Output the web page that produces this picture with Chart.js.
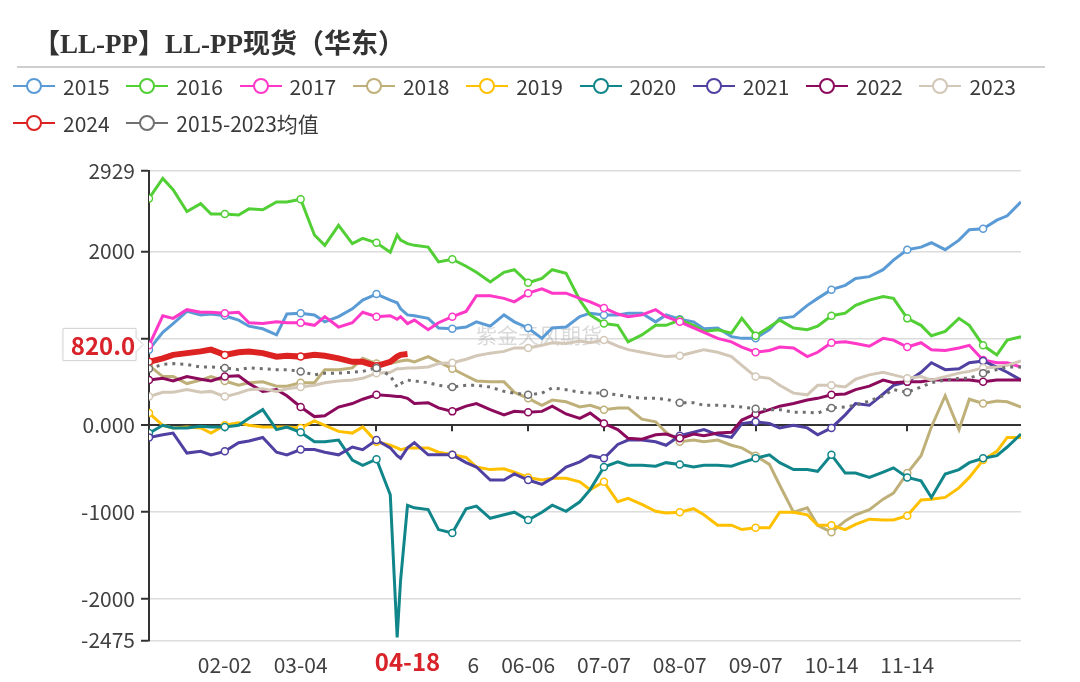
<!DOCTYPE html>
<html>
<head>
<meta charset="utf-8">
<script src="https://cdn.jsdelivr.net/npm/chart.js@4.4.1/dist/chart.umd.min.js"></script>
<style>
  html, body { margin: 0; padding: 0; background: #fff; }
  #wrap { position: relative; width: 1080px; height: 682px; overflow: hidden; }
  canvas { position: absolute; left: 0; top: 0; }
  #title { position: absolute; left: 33px; top: 22px; line-height: 40px; font: bold 27px "Liberation Serif", "Noto Sans CJK SC", serif; color: #333; white-space: nowrap; }
  #rule { position: absolute; left: 17px; top: 66px; width: 1028px; height: 2px; background: #cfcfcf; }
  .item { position: absolute; height: 30px; display: flex; align-items: center; font: 21px "Noto Sans CJK SC", sans-serif; color: #3a3a3a; white-space: nowrap; }
  .item span { margin-left: 8px; }
</style>
</head>
<body>
<div id="wrap">
  <canvas id="chart" width="1080" height="682"></canvas>
  <div id="title">【LL-PP】LL-PP现货（华东）</div>
  <div id="rule"></div>
  <div id="legend"></div>
</div>
<script>
// 交易日序号（横轴位置），各序列在这些位置取值
const days = [0,4,7,11,15,18,22,26,29,33,37,40,44,48,51,55,59,62,66,70,72,73,75,
  77,81,84,88,92,95,99,103,106,110,114,117,121,125,128,132,136,139,143,147,150,154,158,161,165,
  169,172,176,180,183,187,191,194,198,202,205,209,213,216,220,224,227,231,235,238,242,246,249,253];

// 横轴刻度
const tickDays = [22,44,66,88,110,132,154,176,198,220];
const tickLabels = ['02-02','03-04','04-04','05-06','06-06','07-07','08-07','09-07','10-14','11-14'];
// 纵轴刻度
const yTicks = [-2475,-2000,-1000,0,1000,2000,2929];

const s2015 = [870,1070,1170,1310,1270,1280,1260,1210,1140,1110,1040,1280,1290,1270,1190,1250,1340,1440,1510,1440,
  1410,1340,1270,
  1260,1230,1120,1110,1130,1190,1140,1270,1190,1120,1000,1120,1130,1250,1290,1270,1270,1290,1290,1190,1270,1220,1190,1110,1120,
  1020,1000,1000,1100,1230,1250,1380,1460,1560,1610,1690,1710,1790,1900,2020,2050,2100,2020,2130,2250,2260,2360,2410,2570];
const s2016 = [2610,2840,2710,2460,2550,2430,2430,2420,2490,2480,2570,2570,2600,2190,2070,2300,2090,2150,2100,1990,
  2190,2130,2090,
  2070,2050,1880,1910,1830,1760,1650,1760,1790,1640,1690,1790,1750,1440,1270,1170,1150,960,1040,1150,1150,1210,1150,1080,1100,
  1060,1230,1030,1130,1210,1120,1100,1140,1260,1290,1380,1440,1480,1460,1230,1150,1030,1080,1230,1150,920,810,980,1020];
const s2017 = [920,1260,1230,1330,1300,1300,1290,1300,1180,1170,1190,1180,1180,1150,1250,1130,1180,1300,1250,1260,
  1220,1250,1170,
  1210,1100,1180,1250,1310,1490,1490,1460,1420,1520,1570,1520,1520,1460,1420,1350,1280,1250,1270,1330,1250,1190,1120,1070,1000,
  960,900,840,860,900,890,790,840,950,960,940,910,1000,980,900,950,870,860,890,920,750,720,720,670];
const s2018 = [690,560,560,480,520,560,510,460,490,500,450,450,490,490,640,640,660,770,710,710,
  730,740,750,
  730,790,730,650,570,510,500,500,380,310,230,290,270,210,230,180,200,200,70,40,-80,-190,-170,-190,-170,
  -230,-260,-350,-450,-690,-1000,-950,-1150,-1230,-1100,-1030,-970,-850,-780,-550,-350,-20,340,-50,300,250,280,270,210];
const s2019 = [140,0,-30,-20,-30,-90,0,30,0,-20,-20,-20,-30,50,0,-70,-90,-20,-190,-230,
  -260,-280,-260,
  -260,-260,-310,-340,-370,-480,-510,-500,-540,-600,-630,-610,-610,-650,-740,-650,-880,-840,-910,-990,-1010,-1000,-960,-1030,-1150,
  -1150,-1200,-1180,-1180,-1000,-1000,-1030,-1150,-1150,-1200,-1140,-1080,-1090,-1090,-1040,-860,-850,-830,-720,-600,-400,-300,-140,-140];
const s2020 = [-90,0,-30,-30,-10,-20,-20,0,80,180,-50,-20,-80,-190,-190,-170,-400,-460,-390,-800,
  -2440,-1780,-920,
  -950,-970,-1200,-1240,-960,-930,-1070,-1030,-1000,-1090,-1000,-920,-990,-880,-740,-480,-420,-460,-460,-470,-430,-450,-480,-460,-460,
  -470,-430,-380,-340,-430,-510,-510,-530,-340,-550,-550,-600,-540,-490,-600,-640,-830,-560,-510,-430,-380,-350,-250,-100];
const s2021 = [-140,-110,-90,-320,-300,-340,-300,-200,-180,-140,-310,-340,-280,-280,-310,-340,-250,-280,-170,-260,
  -350,-380,-260,
  -200,-340,-340,-340,-430,-480,-630,-630,-560,-630,-680,-610,-480,-420,-350,-380,-220,-170,-170,-190,-230,-120,-80,-50,-110,
  -140,20,40,20,-30,0,-30,-110,-30,120,250,230,360,460,500,610,720,640,650,720,740,670,610,520];
const s2022 = [520,540,510,560,530,510,560,570,480,390,410,340,210,100,110,210,250,300,350,340,
  330,330,310,
  250,260,200,160,220,250,180,120,160,150,160,220,130,80,140,20,-50,-150,-160,-110,-100,-150,-100,-120,-90,
  -80,60,130,180,220,250,290,310,350,360,410,450,520,490,500,500,520,520,520,520,500,520,520,520];
const s2023 = [330,380,380,410,380,390,330,370,410,420,390,420,440,460,490,510,520,540,600,610,
  650,650,660,
  660,670,710,720,760,800,830,850,890,890,920,950,940,970,950,980,910,870,840,810,790,800,840,870,840,
  790,690,560,540,460,370,350,460,460,440,530,580,610,580,540,560,520,560,600,620,660,670,690,740];
const s2024 = [730,770,810,830,850,870,810,840,850,830,790,800,790,810,800,770,730,730,680,730,
  790,810,820];
const sAvg = [650,700,710,700,670,670,660,640,660,650,640,640,620,580,600,600,610,620,660,570,
  440,480,520,
  510,490,460,440,460,460,440,390,370,350,370,430,410,380,370,370,350,330,310,310,300,260,260,230,230,
  220,210,190,180,180,150,150,140,200,210,230,280,340,410,380,440,490,520,540,540,600,640,670,670];

const seriesList = [
  { name: '2015', data: s2015, color: '#5b9bd5' },
  { name: '2016', data: s2016, color: '#52cf35' },
  { name: '2017', data: s2017, color: '#ff38c8' },
  { name: '2018', data: s2018, color: '#bfb07a' },
  { name: '2019', data: s2019, color: '#ffc000' },
  { name: '2020', data: s2020, color: '#10868a' },
  { name: '2021', data: s2021, color: '#4f40a2' },
  { name: '2022', data: s2022, color: '#8c0a5c' },
  { name: '2023', data: s2023, color: '#d3c7b7' },
  { name: '2024', data: s2024, color: '#dd2222', width: 6 },
  { name: '2015-2023均值', data: sAvg, color: '#707070', dash: [3, 5] }
];

// 图例
const legendBox = document.getElementById('legend');
seriesList.forEach((s, i) => {
  const row = i < 9 ? 0 : 1;
  const col = i < 9 ? i : i - 9;
  const el = document.createElement('div');
  el.className = 'item';
  el.style.left = (13 + col * 113.3) + 'px';
  el.style.top = (row === 0 ? 71 : 108) + 'px';
  el.innerHTML = '<svg width="42" height="18"><line x1="0" y1="9" x2="42" y2="9" stroke="' + s.color +
    '" stroke-width="2"/><circle cx="21" cy="9" r="7" fill="#fff" stroke="' + s.color +
    '" stroke-width="2"/></svg><span>' + s.name + '</span>';
  legendBox.appendChild(el);
});

const fontFamily = '"Noto Sans CJK SC", sans-serif';

const overlay = {
  id: 'overlay',
  beforeDatasetsDraw(chart) {
    const ctx = chart.ctx, xs = chart.scales.x, ys = chart.scales.y;
    ctx.save();
    // 水印
    ctx.fillStyle = 'rgba(150,150,150,0.35)';
    ctx.font = '21px ' + fontFamily;
    ctx.textAlign = 'center';
    ctx.textBaseline = 'middle';
    ctx.fillText('紫金天风期货', 539, 335);
    // 零轴上的刻度
    const y0 = ys.getPixelForValue(0);
    ctx.strokeStyle = '#333';
    ctx.lineWidth = 2;
    tickDays.forEach(d => {
      const x = Math.round(xs.getPixelForValue(d));
      ctx.beginPath();
      ctx.moveTo(x, y0);
      ctx.lineTo(x, y0 + 6);
      ctx.stroke();
    });
    ctx.restore();
  },
  afterDraw(chart) {
    const ctx = chart.ctx, xs = chart.scales.x, ys = chart.scales.y;
    ctx.save();
    // 纵轴指示标签
    const cy = ys.getPixelForValue(820) - 9.5;
    ctx.beginPath();
    ctx.moveTo(63, cy - 16);
    ctx.lineTo(136, cy - 16);
    ctx.lineTo(136, cy - 7);
    ctx.lineTo(143, cy);
    ctx.lineTo(136, cy + 7);
    ctx.lineTo(136, cy + 16);
    ctx.lineTo(63, cy + 16);
    ctx.closePath();
    ctx.fillStyle = '#fff';
    ctx.shadowColor = 'rgba(0,0,0,0.12)';
    ctx.shadowBlur = 3;
    ctx.fill();
    ctx.shadowBlur = 0;
    ctx.strokeStyle = '#d6d6d6';
    ctx.lineWidth = 1;
    ctx.stroke();
    ctx.fillStyle = '#d9232a';
    ctx.font = 'bold 24px ' + fontFamily;
    ctx.textAlign = 'center';
    ctx.textBaseline = 'middle';
    ctx.fillText('820.0', 103, cy + 1);
    // 横轴指示标签
    const px = xs.getPixelForValue(75);
    ctx.fillStyle = '#fff';
    ctx.fillRect(px - 59, 643, 119, 38);
    ctx.fillStyle = '#d9232a';
    ctx.font = 'bold 24px ' + fontFamily;
    ctx.fillText('04-18', px, 662);
    ctx.restore();
  }
};

new Chart(document.getElementById('chart'), {
  type: 'line',
  data: {
    datasets: seriesList.map((s, i) => ({
      label: s.name,
      data: s.data.map((v, j) => ({ x: days[j], y: v })),
      borderColor: s.color,
      backgroundColor: '#fff',
      borderWidth: s.width || 3,
      borderDash: s.dash || [],
      pointRadius: c => (days[c.dataIndex] % 22 === 0 ? 3.5 : 0),
      pointBorderWidth: 1.5,
      pointBackgroundColor: '#fff',
      pointBorderColor: s.color,
      tension: 0,
      order: seriesList.length - i
    }))
  },
  options: {
    responsive: false,
    animation: false,
    devicePixelRatio: 1,
    layout: { padding: { top: 170.7, right: 59, bottom: 0, left: 0 } },
    plugins: { legend: { display: false }, tooltip: { enabled: false } },
    scales: {
      x: {
        type: 'linear',
        min: 0,
        max: 253,
        grid: { display: false, drawTicks: false },
        border: { display: false },
        afterBuildTicks: s => { s.ticks = tickDays.map(v => ({ value: v })); },
        afterFit: s => { s.height = 41.6; },
        ticks: {
          autoSkip: false,
          maxRotation: 0,
          padding: 12,
          color: '#404040',
          font: { size: 21, family: fontFamily },
          callback: v => tickLabels[tickDays.indexOf(v)]
        }
      },
      y: {
        min: -2475,
        max: 2929,
        afterBuildTicks: s => { s.ticks = yTicks.map(v => ({ value: v })); },
        afterFit: s => { s.width = 149; },
        grid: {
          color: c => (c.tick && c.tick.value === 0 ? '#333' : '#dcdcdc'),
          lineWidth: c => (c.tick && c.tick.value === 0 ? 2 : 1.5),
          tickColor: '#333',
          tickLength: 8,
          tickWidth: 2
        },
        border: { color: '#333', width: 2 },
        ticks: {
          padding: 6,
          color: '#404040',
          font: { size: 21, family: fontFamily },
          callback: v => (v === 0 ? '0.000' : String(v))
        }
      }
    }
  },
  plugins: [overlay]
});
</script>
</body>
</html>
